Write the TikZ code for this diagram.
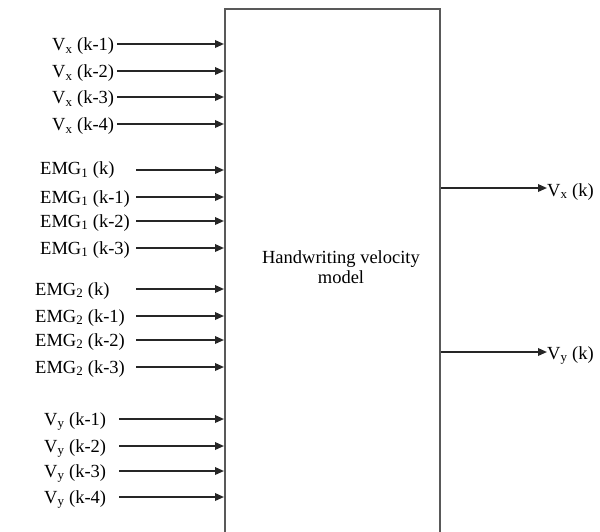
\documentclass[tikz,border=0pt]{standalone}
\usepackage{fontspec}
\setmainfont{Liberation Serif}
\usetikzlibrary{arrows.meta}
\begin{document}
\begin{tikzpicture}[x=1pt,y=-1pt,
  lbl/.style={inner sep=0pt,font=\fontsize{18.5}{20}\selectfont,text=black},
  arr/.style={draw=black!85,line width=1.8pt,-{Triangle[length=9pt,width=7.5pt]}},
  boxst/.style={draw=black!65,line width=2pt,fill=none,inner sep=0pt,
    minimum width=215pt,minimum height=560pt,anchor=north west}]
\useasboundingbox (0,0) rectangle (600,531);
\fill[white] (0,0) rectangle (600,531);
\clip (0,0) rectangle (600,531);
\node[boxst] (box) at (224,8) {};
\node[lbl,align=center] (model) at (341,266.7) {Handwriting velocity\\model};
% Vx inputs
\foreach \y/\t [count=\i] in {44/1,71/2,97/3,124/4}{
  \node[lbl,anchor=base west] (vx\i) at (52,\y+6.5) {V\textsubscript{x} (k-\t)};
  \coordinate (svx\i) at (117,\y);
  \draw[arr] (svx\i) -- (svx\i -| box.west);
}
% EMG1 inputs
\node[lbl,anchor=base west] (ea0) at (40,174.5) {EMG\textsubscript{1} (k)};
\coordinate (sea0) at (136,170);
\draw[arr] (sea0) -- (sea0 -| box.west);
\foreach \y/\t [count=\i] in {197/1,221/2,248/3}{
  \node[lbl,anchor=base west] (ea\i) at (40,\y+6) {EMG\textsubscript{1} (k-\t)};
  \coordinate (sea\i) at (136,\y);
  \draw[arr] (sea\i) -- (sea\i -| box.west);
}
% EMG2 inputs
\node[lbl,anchor=base west] (eb0) at (35,295) {EMG\textsubscript{2} (k)};
\coordinate (seb0) at (136,289);
\draw[arr] (seb0) -- (seb0 -| box.west);
\foreach \y/\t [count=\i] in {316/1,340/2,367/3}{
  \node[lbl,anchor=base west] (eb\i) at (35,\y+6) {EMG\textsubscript{2} (k-\t)};
  \coordinate (seb\i) at (136,\y);
  \draw[arr] (seb\i) -- (seb\i -| box.west);
}
% Vy inputs
\foreach \y/\t [count=\i] in {419/1,446/2,471/3,497/4}{
  \node[lbl,anchor=base west] (vy\i) at (44,\y+6) {V\textsubscript{y} (k-\t)};
  \coordinate (svy\i) at (119,\y);
  \draw[arr] (svy\i) -- (svy\i -| box.west);
}
% outputs
\node[lbl,anchor=base west] (ox) at (547,196) {V\textsubscript{x} (k)};
\node[lbl,anchor=base west] (oy) at (547,359) {V\textsubscript{y} (k)};
\coordinate (ax) at (0,188);
\coordinate (ay) at (0,352);
\draw[arr] (box.east |- ax) -- (ox.west |- ax);
\draw[arr] (box.east |- ay) -- (oy.west |- ay);
\end{tikzpicture}
\end{document}
